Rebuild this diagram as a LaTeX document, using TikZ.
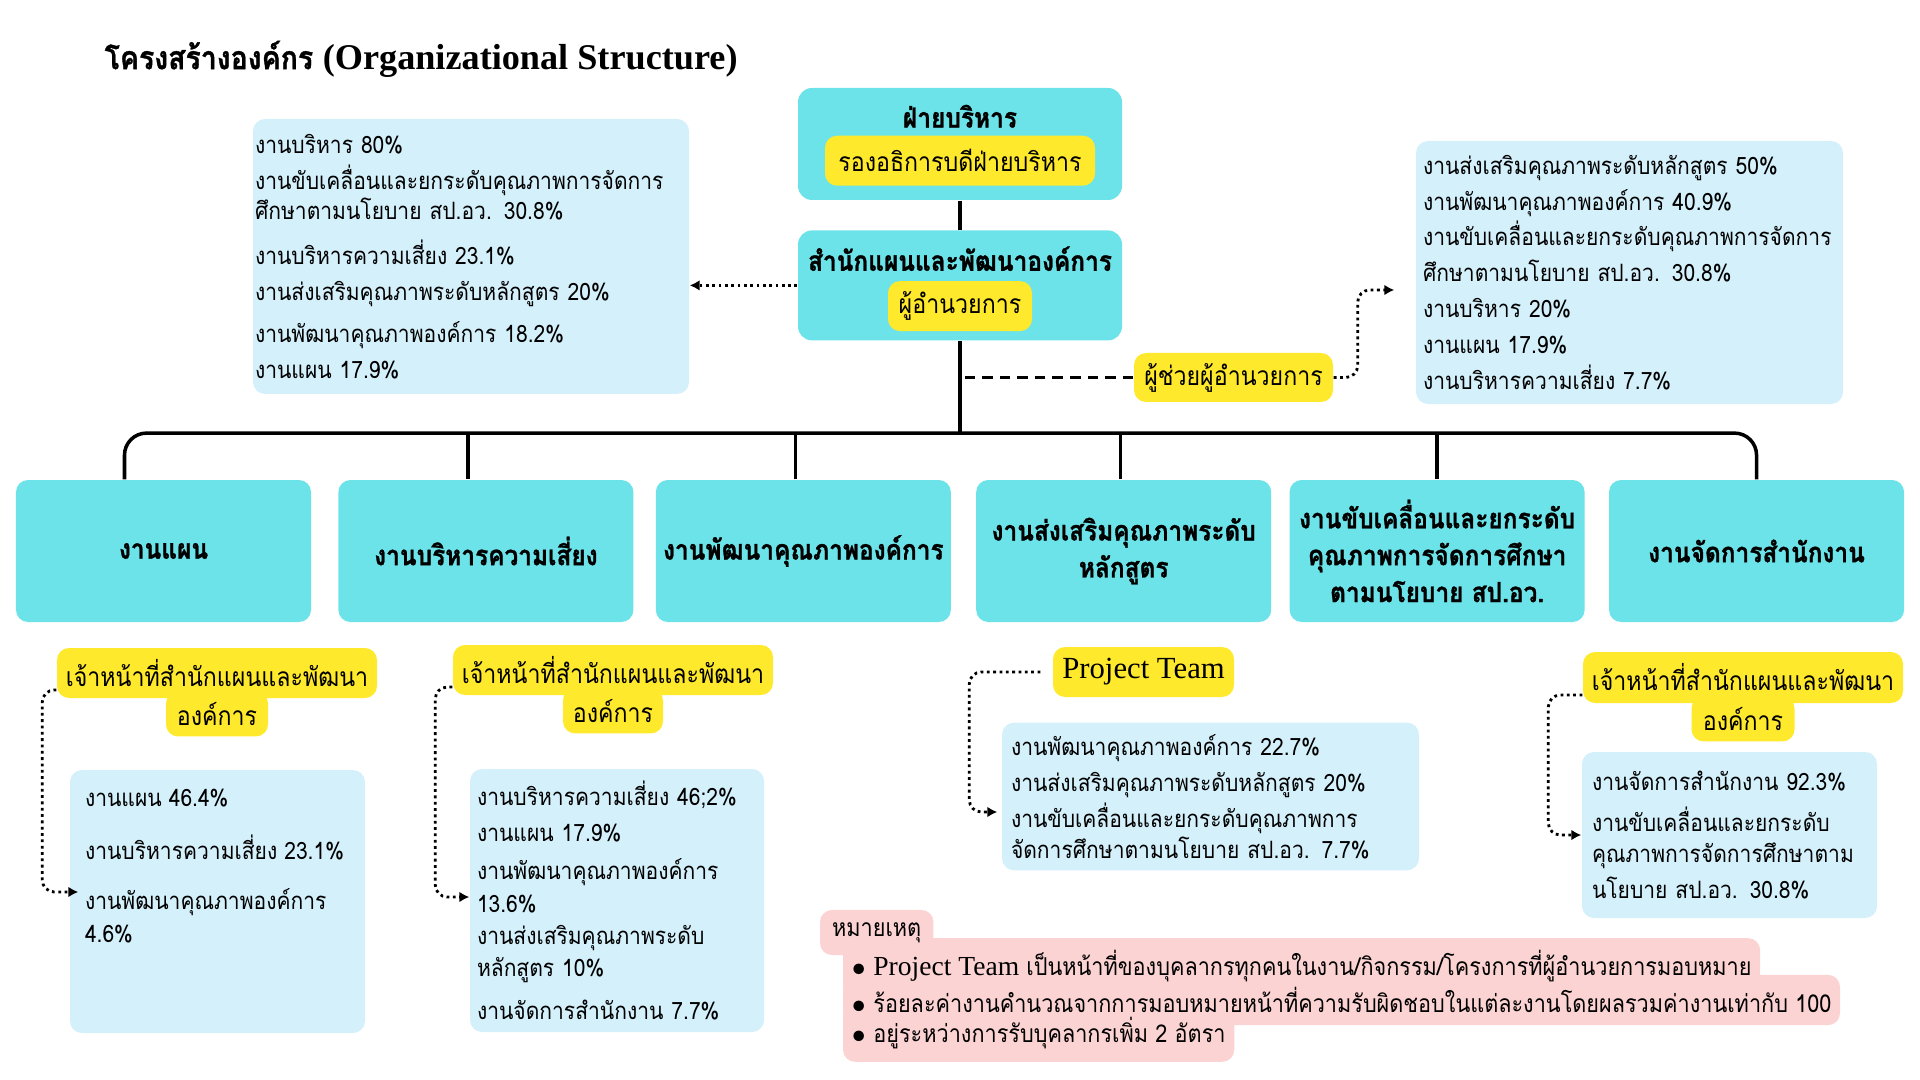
\documentclass[tikz,border=0pt]{standalone}
\usepackage{fontspec}
\setmainfont{Loma}[Script=Thai,FakeStretch=0.88,BoldFeatures={FakeBold=1}]
\newfontfamily\serifla{Liberation Serif}[Scale=1.12]
\usetikzlibrary{arrows.meta,positioning,calc,backgrounds}
\definecolor{aqua}{HTML}{6CE3E9}
\definecolor{yel}{HTML}{FFE92C}
\definecolor{sky}{HTML}{D4F0FB}
\definecolor{rose}{HTML}{FCD3D3}

\begin{document}
\begin{tikzpicture}[>=Latex,
 unit/.style={fill=aqua,rounded corners=.12cm,minimum width=2.95cm,minimum height=1.42cm,align=center,inner sep=2pt,font=\fontsize{7.9}{10.5}\selectfont\bfseries},
 head/.style={fill=aqua,rounded corners=.14cm,minimum width=3.24cm},
 hd/.style={font=\fontsize{7.9}{9}\selectfont\bfseries},
 tag/.style={fill=yel,rounded corners=.12cm,minimum height=.5cm,inner sep=2pt,font=\fontsize{7.5}{9}\selectfont},
 info/.style={fill=sky,rounded corners=.12cm,align=left,font=\fontsize{6.8}{10.2}\selectfont},
 band/.style={anchor=west,minimum height=.45cm,inner xsep=.08cm,font=\fontsize{7}{8}\selectfont},
 bus/.style={line width=1pt,rounded corners=.22cm},
 dashln/.style={line width=1pt,dash pattern=on 3pt off 2pt},
 dotarr/.style={-{Latex[length=2.8pt,width=3pt]},line width=.8pt,dash pattern=on .8pt off 1pt,rounded corners=.12cm}]
\useasboundingbox (0,0) rectangle (19.2,-10.8);
\node[anchor=west,inner sep=0pt,font=\fontsize{9.2}{11}\selectfont\bfseries] (title) at (1.04,-.59) {โครงสร้างองค์กร {\serifla(Organizational Structure)}};

\node[head,minimum height=1.12cm] (exec) at (9.60,-1.44) {};
\node[hd] (exechd) at ([yshift=-.29cm]exec.north) {ฝ่ายบริหาร};
\node[tag,minimum width=2.70cm] (vp) at ([yshift=.40cm]exec.south) {รองอธิการบดีฝ่ายบริหาร};
\node[head,minimum height=1.10cm,below=.29cm of exec] (bureau) {};
\node[hd] (bureauhd) at ([yshift=-.29cm]bureau.north) {สำนักแผนและพัฒนาองค์การ};
\node[tag,minimum width=1.44cm] (dir) at ([yshift=.35cm]bureau.south) {ผู้อำนวยการ};
\draw[line width=1pt] (exec) -- (bureau);

\node[info,text width=4.32cm,minimum height=2.75cm,inner xsep=.02cm] (infoL) at (4.71,-2.565) {งานบริหาร 80\%\\
งานขับเคลื่อนและยกระดับคุณภาพการจัดการ\\[-1.4pt]
ศึกษาตามนโยบาย สป.อว. 30.8\%\\[2.6pt]
งานบริหารความเสี่ยง 23.1\%\\
งานส่งเสริมคุณภาพระดับหลักสูตร 20\%\\[1.7pt]
งานพัฒนาคุณภาพองค์การ 18.2\%\\
งานแผน 17.9\%};
\draw[dotarr] (bureau.west) -- (infoL.east |- bureau.west);

\node[tag,minimum width=1.99cm,minimum height=.49cm] (assist) at (12.335,-3.775) {ผู้ช่วยผู้อำนวยการ};
\node[info,text width=4.13cm,minimum height=2.63cm,inner xsep=.07cm] (infoR) at (16.295,-2.725) {งานส่งเสริมคุณภาพระดับหลักสูตร 50\%\\
งานพัฒนาคุณภาพองค์การ 40.9\%\\
งานขับเคลื่อนและยกระดับคุณภาพการจัดการ\\
ศึกษาตามนโยบาย สป.อว. 30.8\%\\
งานบริหาร 20\%\\
งานแผน 17.9\%\\
งานบริหารความเสี่ยง 7.7\%};
\draw[dashln] (assist.west) -- (assist.west -| bureau.south);
\draw[dotarr] (assist.east) -- ++(.24,0) |- ([xshift=-.21cm,yshift=-.175cm]infoR.west);

\node[unit] (plan) at (1.635,-5.51) {งานแผน};
\node[unit,right=.26cm of plan] (risk) {งานบริหารความเสี่ยง};
\node[unit,right=.21cm of risk] (qual) {งานพัฒนาคุณภาพองค์การ};
\node[unit,right=.24cm of qual] (curr) {งานส่งเสริมคุณภาพระดับ\\หลักสูตร};
\node[unit,right=.17cm of curr] (drive) {งานขับเคลื่อนและยกระดับ\\คุณภาพการจัดการศึกษา\\ตามนโยบาย สป.อว.};
\node[unit,right=.23cm of drive] (office) {งานจัดการสำนักงาน};

\coordinate[below=.92cm of bureau.south] (hub);
\draw[bus] (bureau.south) -- (hub);
\draw[bus] ([xshift=-.39cm]plan.north) |- (hub) -| (office.north);
\draw[bus] ([xshift=-.18cm]risk.north) -- ([xshift=-.18cm]risk.north |- hub);
\draw[bus] ([xshift=-.08cm]qual.north) -- ([xshift=-.08cm]qual.north |- hub);
\draw[bus] ([xshift=-.03cm]curr.north) -- ([xshift=-.03cm]curr.north |- hub);
\draw[bus] (drive.north) -- (drive.north |- hub);

\node[tag,minimum width=3.20cm] (staffA) at (2.17,-6.73) {เจ้าหน้าที่สำนักแผนและพัฒนา};
\node[tag,minimum width=1.02cm,minimum height=.45cm,below=-.08cm of staffA] (staffAb) {องค์การ};
\node[info,minimum height=2.63cm,inner xsep=.15cm,inner ysep=.12cm] (infoA) at (2.175,-9.015) {\begin{minipage}[c][2.39cm][t]{2.65cm}\raggedright
\vspace{2pt}งานแผน 46.4\%\\[5pt]
งานบริหารความเสี่ยง 23.1\%\\[4pt]
งานพัฒนาคุณภาพองค์การ\\[-1pt]
4.6\%\end{minipage}};
\draw[dotarr] ([yshift=-.17cm]staffA.west) -- ++(-.14,0) |- ([xshift=.09cm,yshift=.095cm]infoA.west);

\node[tag,minimum width=3.20cm] (staffB) at (6.13,-6.70) {เจ้าหน้าที่สำนักแผนและพัฒนา};
\node[tag,minimum width=1.00cm,minimum height=.45cm,below=-.08cm of staffB] (staffBb) {องค์การ};
\node[info,text width=2.80cm,minimum height=2.63cm,inner xsep=.07cm,font=\fontsize{6.8}{9.2}\selectfont] (infoB) at (6.17,-9.005) {งานบริหารความเสี่ยง 46;2\%\\[1.2pt]
งานแผน 17.9\%\\[1.6pt]
งานพัฒนาคุณภาพองค์การ\\
13.6\%\\
งานส่งเสริมคุณภาพระดับ\\
หลักสูตร 10\%\\[3pt]
งานจัดการสำนักงาน 7.7\%};
\draw[dotarr] ([yshift=-.17cm]staffB.west) -- ++(-.17,0) |- ([yshift=.035cm]infoB.west);

\node[tag,minimum width=1.81cm] (ptag) at (11.435,-6.72) {\serifla\fontsize{7.8}{9}\selectfont Project Team};
\node[info,text width=3.99cm,minimum height=1.47cm,inner xsep=.09cm] (infoC) at (12.105,-7.965) {งานพัฒนาคุณภาพองค์การ 22.7\%\\
งานส่งเสริมคุณภาพระดับหลักสูตร 20\%\\
งานขับเคลื่อนและยกระดับคุณภาพการ\\[-1.4pt]
จัดการศึกษาตามนโยบาย สป.อว. 7.7\%};
\draw[dotarr] ([xshift=-.12cm]ptag.west) -- ++(-.71,0) |- ([xshift=-.04cm,yshift=-.155cm]infoC.west);

\node[tag,minimum width=3.20cm,minimum height=.51cm] (staffD) at (17.43,-6.775) {เจ้าหน้าที่สำนักแผนและพัฒนา};
\node[tag,minimum width=1.03cm,minimum height=.45cm,below=-.08cm of staffD] (staffDb) {องค์การ};
\node[info,text width=2.75cm,minimum height=1.66cm,inner xsep=.10cm] (infoD) at (17.295,-8.35) {งานจัดการสำนักงาน 92.3\%\\[1.5pt]
งานขับเคลื่อนและยกระดับ\\[-1.2pt]
คุณภาพการจัดการศึกษาตาม\\
นโยบาย สป.อว. 30.8\%};
\draw[dotarr] ([yshift=-.175cm]staffD.west) -- ++(-.34,0) |- (infoD.west);

\node[band,minimum width=1.12cm,minimum height=.41cm] (notehd) at (8.20,-9.325) {หมายเหตุ};
\node[band] (nb1) at (8.43,-9.665) {$\bullet$\ {\serifla Project Team} เป็นหน้าที่ของบุคลากรทุกคนในงาน/กิจกรรม/โครงการที่ผู้อำนวยการมอบหมาย};
\node[band] (nb2) at (8.43,-10.00) {$\bullet$\ ร้อยละค่างานคำนวณจากการมอบหมายหน้าที่ความรับผิดชอบในแต่ละงานโดยผลรวมค่างานเท่ากับ 100};
\node[band] (nb3) at (8.43,-10.335) {$\bullet$\ อยู่ระหว่างการรับบุคลากรเพิ่ม 2 อัตรา};
\begin{scope}[on background layer]
\foreach \b in {notehd,nb1,nb2,nb3} \fill[rose,rounded corners=.12cm] (\b.north west) rectangle (\b.south east);
\end{scope}
\end{tikzpicture}
\end{document}
